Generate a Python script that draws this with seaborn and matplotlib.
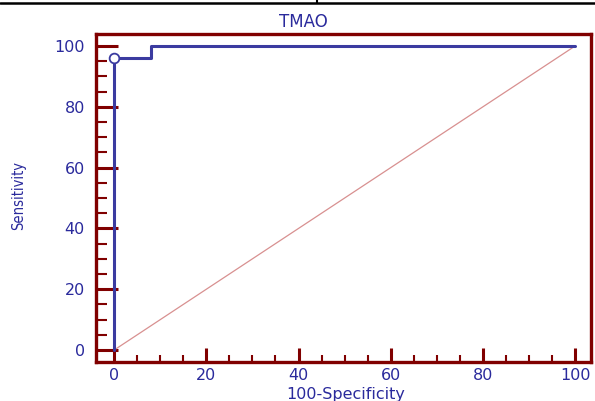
import seaborn as sns
import matplotlib.pyplot as plt
import pandas as pd
from matplotlib.lines import Line2D
from matplotlib.ticker import MultipleLocator

# ROC curve points (100-Specificity, Sensitivity)
fpr = [0, 0, 8, 8, 100]
tpr = [0, 96, 96, 100, 100]
diag_x = [0, 100]
diag_y = [0, 100]
cut_x = [0]
cut_y = [96]

dark_red = '#800000'
blue = '#3b3ba0'
txt_blue = '#2a2a9c'

sns.set_style('white')
plt.rcParams['font.family'] = ['DejaVu Sans']

fig = plt.figure(figsize=(5.95, 4.01), dpi=100)
ax = fig.add_axes([96/595, 39/401, 495/595, 328/401])

roc = pd.DataFrame({'fpr': fpr, 'tpr': tpr})
diag = pd.DataFrame({'x': diag_x, 'y': diag_y})

sns.lineplot(data=diag, x='x', y='y', ax=ax, color='#d89090', lw=0.9,
             sort=False, estimator=None)
sns.lineplot(data=roc, x='fpr', y='tpr', ax=ax, color=blue, lw=2.2,
             sort=False, estimator=None)
ax.plot(cut_x, cut_y, marker='o', ms=7, mfc='white', mec=blue, mew=1.3,
        ls='none', zorder=5)

ax.set_xlim(-3.9, 103.4)
ax.set_ylim(-3.9, 103.9)
ax.xaxis.set_major_locator(MultipleLocator(20))
ax.xaxis.set_minor_locator(MultipleLocator(5))
ax.yaxis.set_major_locator(MultipleLocator(20))
ax.yaxis.set_minor_locator(MultipleLocator(5))

for s in ax.spines.values():
    s.set_color(dark_red)
    s.set_linewidth(2.4)
    s.set_visible(True)

ax.tick_params(axis='x', which='major', direction='in', length=10, width=2.2,
               color=dark_red, labelcolor=txt_blue, labelsize=11.5, pad=4,
               bottom=True)
ax.tick_params(axis='x', which='minor', direction='in', length=5, width=1.5,
               color=dark_red, bottom=True)
ax.tick_params(axis='y', which='major', direction='in', length=16, width=2.2,
               color=dark_red, labelcolor=txt_blue, labelsize=11.5, pad=8,
               left=True)
ax.tick_params(axis='y', which='minor', direction='in', length=8, width=1.5,
               color=dark_red, left=True)

ax.set_xlabel('')
ax.set_ylabel('')
fig.text(346/595, 1 - 394/401, '100-Specificity', color=txt_blue,
         fontsize=11.5, ha='center', va='center')
fig.text(19/595, 1 - 196/401, 'Sensitivity', rotation=90, color=txt_blue,
         fontsize=10.5, fontstretch='condensed', ha='center', va='center')
fig.text(303/595, 1 - 22/401, 'TMAO', color=txt_blue, fontsize=12,
         ha='center', va='center')

# table border fragments at the top
fig.add_artist(Line2D([0, 1], [1 - 3/401, 1 - 3/401], color='black', lw=1.8,
                      transform=fig.transFigure))
fig.add_artist(Line2D([317/595, 317/595], [1 - 3/401, 1], color='black',
                      lw=1.5, transform=fig.transFigure))

fig.savefig('out.png', dpi=100)
